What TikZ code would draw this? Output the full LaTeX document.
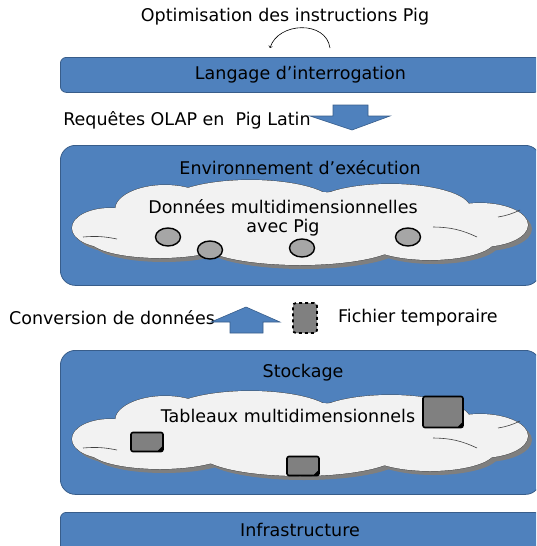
\documentclass[tikz,border=0pt]{standalone}
\usepackage{fontspec}
\setmainfont{DejaVu Sans}
\usetikzlibrary{positioning,shapes.geometric}
\definecolor{layerblue}{HTML}{4F81BD}
\definecolor{layeredge}{HTML}{385D8A}
\definecolor{cloudfill}{HTML}{F2F2F2}
\definecolor{cloudedge}{HTML}{404040}
\definecolor{shadowgray}{HTML}{7F7F7F}
\definecolor{datagray}{HTML}{A6A6A6}
\definecolor{filegray}{HTML}{808080}

% puffs of a cloud: dx/dy/x radius/y radius
\newcommand{\cloudpuffs}{-190/6/38/20, -135/-12/50/25, -50/-17/85/25, 90/-14/80/24, 180/3/48/22,
  130/18/65/20, 0/20/100/23, -140/18/70/18, 0/0/200/30}

\tikzset{
  layer/.style={rectangle, rounded corners=6pt, fill=layerblue, draw=layeredge, line width=0.8pt, anchor=north west},
  bigbox/.style={layer, rounded corners=15pt},
  puffcloud/.pic={
    \foreach \cx/\cy/\rx/\ry in \cloudpuffs {\fill[shadowgray] (\cx+4,\cy+4) ellipse [x radius=\rx pt, y radius=\ry pt];}
    \foreach \cx/\cy/\rx/\ry in \cloudpuffs {\draw[cloudedge, line width=0.8pt] (\cx,\cy) ellipse [x radius=\rx pt, y radius=\ry pt];}
    \foreach \cx/\cy/\rx/\ry in \cloudpuffs {\fill[cloudfill] (\cx,\cy) ellipse [x radius=\rx pt, y radius=\ry pt];}
    % inner creases
    \draw[cloudedge, line width=0.6pt] (-217,15) to[bend left=8] (-183,17);
    \draw[cloudedge, line width=0.6pt] (133,5) to[bend left=12] (177,15);
    \draw[cloudedge, line width=0.6pt] (198,-5) to[bend right=8] (220,-12);
  },
  datapoint/.style={ellipse, fill=datagray, draw=black, line width=1.4pt, minimum width=25pt, minimum height=18pt, inner sep=0pt},
  datafile/.style={rectangle, rounded corners=2pt, fill=filegray, draw=black, line width=1.6pt, inner sep=0pt,
    path picture={\fill[black] (path picture bounding box.south east) -- ++(-6pt,0pt) -- ++(6pt,6pt) -- cycle;}},
  tempfile/.style={rectangle, rounded corners=3pt, fill=filegray, draw=black, line width=1.8pt, dashed, inner sep=0pt,
    minimum width=24pt, minimum height=30pt},
  blockarrow/.style={fill=layerblue, draw=layeredge, line width=0.6pt},
  caption/.style={inner sep=0pt}
}

\begin{document}
\begin{tikzpicture}[x=1pt, y=-1pt, font=\fontsize{17.5}{20}\selectfont]
        \useasboundingbox (0,0) rectangle (536,546);
        \clip (0,0) rectangle (536,546);

        % query layer
        \node[caption] (optim) at (285,17) {Optimisation des instructions Pig};
        \coordinate (loopstart) at (330,48);
        \coordinate (loopend) at (270,48);
        \draw[->, line width=0.6pt] (loopstart) .. controls (326,20) and (278,22) .. (loopend);
        \node[layer, minimum width=480pt, minimum height=35pt] (lang) at (60,57) {Langage d'interrogation};

        \node[caption] (olap) at (187,120) {Requêtes OLAP en\ \ Pig Latin};
        \draw[blockarrow] (333,105) -- (368,105) -- (368,116) -- (390,116) -- (352,130) -- (310,116) -- (333,116) -- cycle;

        % execution layer
        \node[bigbox, minimum width=480pt, minimum height=140pt] (exec) at (60,145) {};
        \node[caption] (exectitle) at (300,168) {Environnement d'exécution};
        \pic (execcloud) at (300,222) {puffcloud};
        \node[caption] (mdata) at (283,207) {Données multidimensionnelles};
        \node[caption] (mdatapig) [below=5pt of mdata] {avec Pig};
        \node[datapoint] (pa) at (168,237) {};
        \node[datapoint] (pb) at (210,250) {};
        \node[datapoint] (pc) at (302,248) {};
        \node[datapoint] (pd) at (408,237) {};

        % conversion
        \node[caption] (conv) at (112,318) {Conversion de données};
        \draw[blockarrow] (246,307) -- (280,322) -- (263,322) -- (263,333) -- (230,333) -- (230,322) -- (211,322) -- cycle;
        \node[tempfile] (tmp) at (305,318) {};
        \node[caption] (tmptext) [right=20pt of tmp] {Fichier temporaire};

        % storage layer
        \node[bigbox, minimum width=480pt, minimum height=144pt] (store) at (60,350) {};
        \node[caption] (storetitle) at (303,373) {Stockage};
        \pic (storecloud) at (300,433) {puffcloud};
        \node[caption] (tables) at (288,416) {Tableaux multidimensionnels};
        \node[datafile, minimum width=40pt, minimum height=31pt] (fa) at (443,412) {};
        \node[datafile, minimum width=32pt, minimum height=19pt] (fb) at (147,442) {};
        \node[datafile, minimum width=32pt, minimum height=19pt] (fc) at (303,466) {};

        % infrastructure
        \node[layer, minimum width=480pt, minimum height=40pt] (infra) at (60,512) {};
        \node[caption] (infratext) at (300,530) {Infrastructure};
    \end{tikzpicture}
\end{document}
